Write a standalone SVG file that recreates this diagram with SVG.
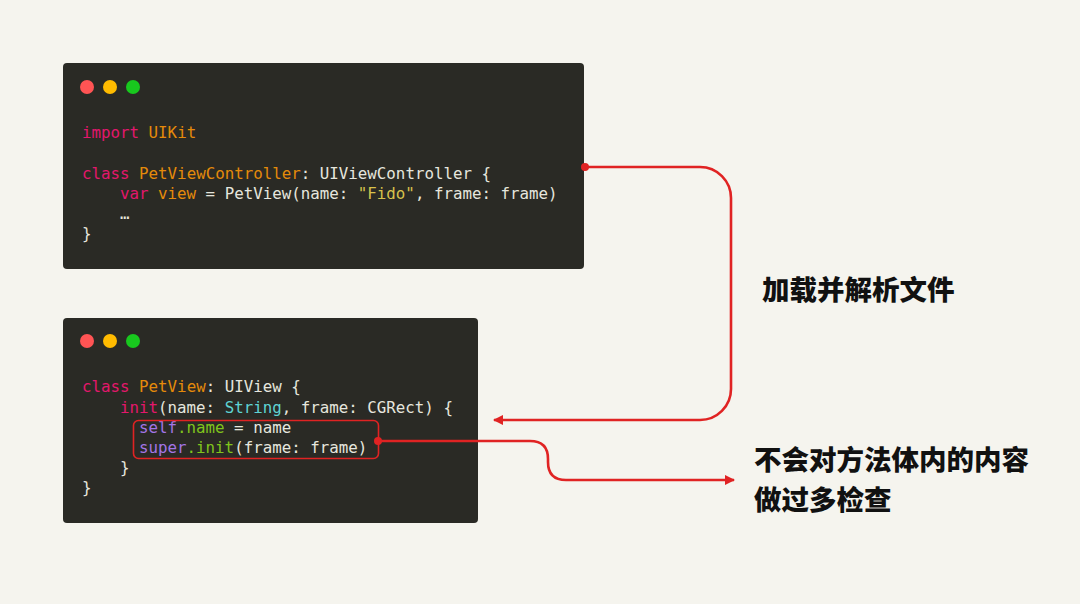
<svg xmlns="http://www.w3.org/2000/svg" width="1080" height="604" viewBox="0 0 1080 604">
<style>
.panel{fill:#2a2a25}
.code{font-family:"DejaVu Sans Mono","Liberation Mono",monospace;font-size:15.8px;fill:#e6e6de;white-space:pre}
.kw{fill:#e3176c}.ty{fill:#e58a0a}.st{fill:#d8c24c}.cy{fill:#5fd3d3}.pu{fill:#a375e6}.gr{fill:#80c41c}
.lbl{font-family:"Noto Sans CJK SC","Noto Sans",sans-serif;font-size:27.5px;font-weight:900;fill:#111}
.wire{fill:none;stroke:#e02323;stroke-width:2.6}
</style>
<defs>
<marker id="arr" viewBox="0 0 10 10" refX="9" refY="5" markerWidth="4" markerHeight="4" orient="auto-start-reverse" markerUnits="strokeWidth">
<path d="M0,0 L10,5 L0,10 z" fill="#e02323"/>
</marker>
</defs>
<rect width="1080" height="604" fill="#f5f4ee"/>
<g id="panel-controller">
<rect class="panel" x="63" y="63" width="521" height="206" rx="4"/>
<circle cx="87" cy="87" r="7" fill="#ff5454"/>
<circle cx="110" cy="87" r="7" fill="#ffbb00"/>
<circle cx="133" cy="87" r="7" fill="#18c81e"/>
<text class="code" x="82" y="138"><tspan class="kw">import</tspan> <tspan class="ty">UIKit</tspan></text>
<text class="code" x="82" y="179"><tspan class="kw">class</tspan> <tspan class="ty">PetViewController</tspan>: UIViewController {</text>
<text class="code" x="120" y="199"><tspan class="kw">var</tspan> <tspan class="ty">view</tspan> = PetView(name: <tspan class="st">"Fido"</tspan>, frame: frame)</text>
<text class="code" x="120" y="219">…</text>
<text class="code" x="82" y="239">}</text>
</g>
<g id="panel-petview">
<rect class="panel" x="63" y="318" width="415" height="205" rx="4"/>
<circle cx="87" cy="341" r="7" fill="#ff5454"/>
<circle cx="110" cy="341" r="7" fill="#ffbb00"/>
<circle cx="133" cy="341" r="7" fill="#18c81e"/>
<text class="code" x="82" y="392"><tspan class="kw">class</tspan> <tspan class="ty">PetView</tspan>: UIView {</text>
<text class="code" x="120" y="413"><tspan class="kw">init</tspan>(name: <tspan class="cy">String</tspan>, frame: CGRect) {</text>
<text class="code" x="139" y="433"><tspan class="pu">self</tspan><tspan class="gr">.name</tspan> = name</text>
<text class="code" x="139" y="453"><tspan class="pu">super</tspan><tspan class="gr">.init</tspan>(frame: frame)</text>
<text class="code" x="120" y="473">}</text>
<text class="code" x="82" y="493">}</text>
<rect x="133.5" y="420.5" width="245" height="38" rx="5" fill="none" stroke="#e02323" stroke-width="1.6"/>
</g>
<g id="connectors">
<path class="wire" d="M585,167 H700 A31,31 0 0 1 731,198 V389 A31,31 0 0 1 700,420 H494" marker-end="url(#arr)"/>
<circle cx="585" cy="167" r="4" fill="#e02323"/>
<path class="wire" d="M378,441 H530 Q548,441 548,459 V462 Q548,480 566,480 H734" marker-end="url(#arr)"/>
<circle cx="378" cy="441" r="4" fill="#e02323"/>
</g>
<g id="label-load">
<text class="lbl" x="762" y="300">加载并解析文件</text>
</g>
<g id="label-check">
<text class="lbl" x="754" y="470">不会对方法体内的内容</text>
<text class="lbl" x="754" y="510">做过多检查</text>
</g>
</svg>
